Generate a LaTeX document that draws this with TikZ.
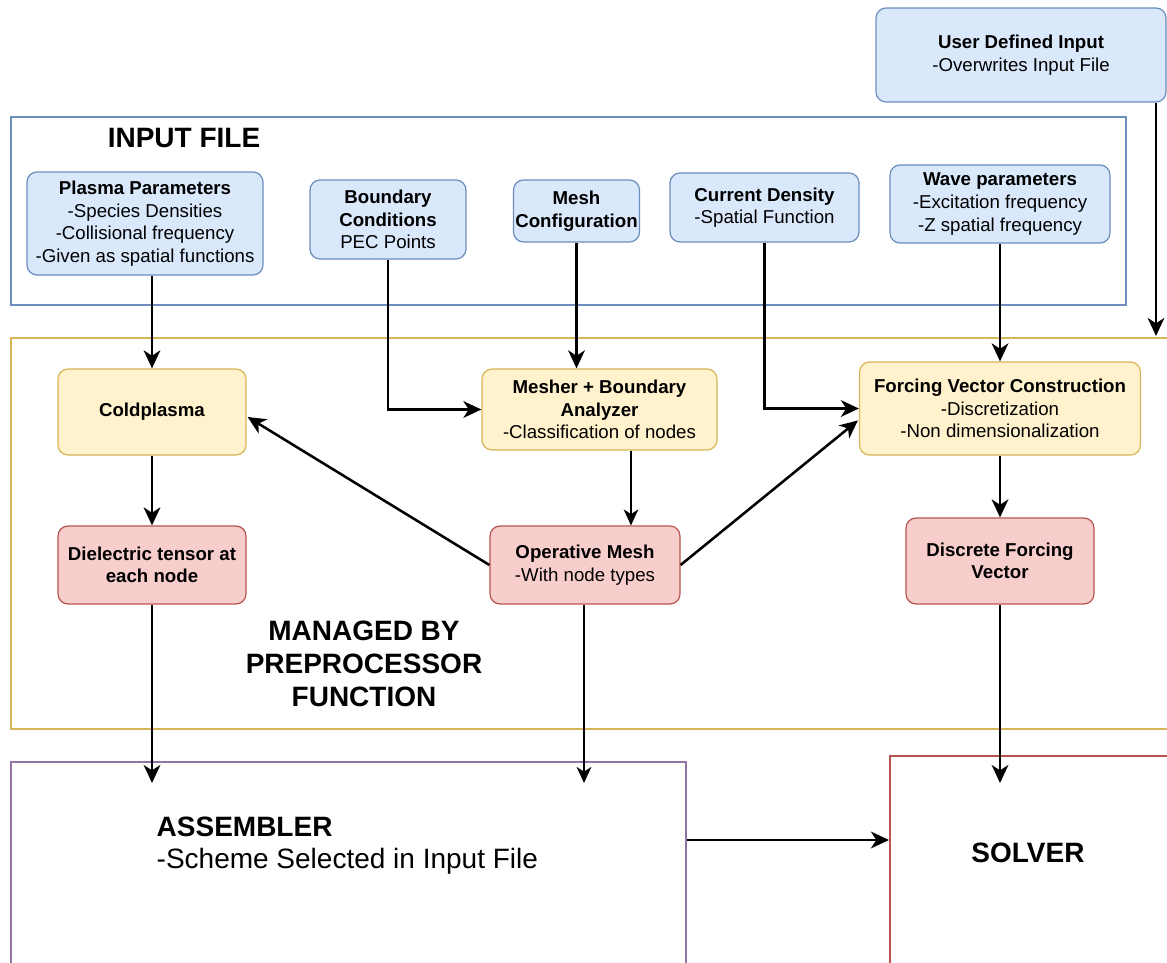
\documentclass[tikz,border=0pt]{standalone}
\usepackage{fontspec}
\setmainfont{Liberation Sans}
\usetikzlibrary{arrows.meta,calc}
\definecolor{bfill}{HTML}{DAE8FC}
\definecolor{bline}{HTML}{6C8EBF}
\definecolor{yfill}{HTML}{FFF2CC}
\definecolor{yline}{HTML}{D6B656}
\definecolor{rfill}{HTML}{F8CECC}
\definecolor{rline}{HTML}{B85450}
\definecolor{pline}{HTML}{9673A6}
\tikzset{
  box/.style={rounded corners=7.5pt, line width=0.9pt, inner sep=0pt, align=center,
    font=\fontsize{14}{16.9}\selectfont},
  bluebox/.style={box, draw=bline, fill=bfill},
  yelbox/.style={box, draw=yline, fill=yfill},
  redbox/.style={box, draw=rline, fill=rfill},
  frame/.style={line width=1.5pt, inner sep=0pt},
  big/.style={font=\fontsize{21}{24.5}\selectfont\bfseries, align=center},
  arr/.style={line width=1.9pt, -{Stealth[length=13.5pt,width=12.5pt,inset=4pt]}},
  thinarr/.style={line width=1.1pt, -{Stealth[length=12pt,width=11pt,inset=3.5pt]}}
}
\begin{document}
\begin{tikzpicture}[x=0.75pt,y=-0.75pt]
\useasboundingbox (0,0) rectangle (1167,963);
% frames
\node[frame, draw=bline, minimum width=836.25pt, minimum height=141pt] (inputframe) at (568.5,211) {};
\node[frame, draw=yline, minimum width=873pt, minimum height=293.25pt] (managed) at (593,533.5) {};
\node[frame, draw=pline, minimum width=506.25pt, minimum height=159.75pt] (assembler) at (348.5,868.5) {};
\node[frame, draw=rline, minimum width=217.5pt, minimum height=164.25pt] (solver) at (1035,865.5) {};
% frame labels
\node[big] (inputlabel) at (184,138) {INPUT FILE};
\node[big] (managedlabel) at (364,664) {MANAGED BY\\PREPROCESSOR\\FUNCTION};
\node[anchor=west, align=left, font=\fontsize{21}{24}\selectfont] (asmlabel) at (152,846) {\textbf{ASSEMBLER}\\-Scheme Selected in Input File};
\node[big] (solverlabel) at (1028,853) {SOLVER};
% boxes
\node[bluebox, minimum width=217.5pt, minimum height=70.5pt] (user) at (1021,55) {\textbf{User Defined Input}\\-Overwrites Input File};
\node[bluebox, minimum width=177pt, minimum height=77.25pt] (plasma) at (145,223.5) {\textbf{Plasma Parameters}\\-Species Densities\\-Collisional frequency\\-Given as spatial functions};
\node[bluebox, minimum width=117pt, minimum height=59.25pt] (boundary) at (388,219.5) {\textbf{Boundary}\\\textbf{Conditions}\\PEC Points};
\node[bluebox, minimum width=94.5pt, minimum height=46.5pt] (meshconf) at (576.5,211) {\textbf{Mesh}\\\textbf{Configuration}};
\node[bluebox, minimum width=141.75pt, minimum height=51.75pt] (current) at (764.5,207.5) {\textbf{Current Density}\\-Spatial Function};
\node[bluebox, minimum width=165pt, minimum height=58.5pt] (wave) at (1000,204) {\textbf{Wave parameters}\\-Excitation frequency\\-Z spatial frequency};
\node[yelbox, minimum width=141pt, minimum height=64.5pt] (cold) at (152,412) {\textbf{Coldplasma}};
\node[yelbox, minimum width=176.25pt, minimum height=60.75pt] (mesher) at (599.5,409.5) {\textbf{Mesher + Boundary}\\\textbf{Analyzer}\\-Classification of nodes};
\node[yelbox, minimum width=210.75pt, minimum height=69.75pt] (forcing) at (1000,408.5) {\textbf{Forcing Vector Construction}\\-Discretization\\-Non dimensionalization};
\node[redbox, minimum width=141pt, minimum height=58.5pt] (diel) at (152,565) {\textbf{Dielectric tensor at}\\\textbf{each node}};
\node[redbox, minimum width=142.5pt, minimum height=58.5pt] (opmesh) at (585,565) {\textbf{Operative Mesh}\\-With node types};
\node[redbox, minimum width=141pt, minimum height=64.5pt] (discrete) at (1000,561) {\textbf{Discrete Forcing}\\\textbf{Vector}};
% helper coordinates
\coordinate (utop) at (1156,336);
\coordinate (a1) at (152,783);
\coordinate (a2) at (584,783);
\coordinate (s1) at (1000,783);
\coordinate (mx) at (631,0);
\coordinate (ox) at (584,0);
\coordinate (ay) at (0,840);
% connectors
\draw[arr] (cold.north |- plasma.south) -- (cold.north);
\draw[arr] (boundary.south) |- (mesher.west);
\draw[arr] (meshconf.south) -- (meshconf.south |- mesher.north);
\draw[arr] (current.south) |- (forcing.west);
\draw[arr] (wave.south) -- (wave.south |- forcing.north);
\draw[arr] (user.south -| utop) -- (utop);
\draw[arr] (cold.south) -- (diel.north);
\draw[thinarr] (mesher.south -| mx) -- (opmesh.north -| mx);
\draw[arr] (opmesh.west) -- ($(cold.east)+(1,5)$);
\draw[arr] (opmesh.east) -- ($(forcing.west)+(-1,12)$);
\draw[arr] (forcing.south) -- (discrete.north);
\draw[arr] (diel.south) -- (a1);
\draw[thinarr] (opmesh.south -| ox) -- (a2);
\draw[arr] (discrete.south) -- (s1);
\draw[arr] (assembler.east |- ay) -- (solver.west |- ay);
\end{tikzpicture}
\end{document}
